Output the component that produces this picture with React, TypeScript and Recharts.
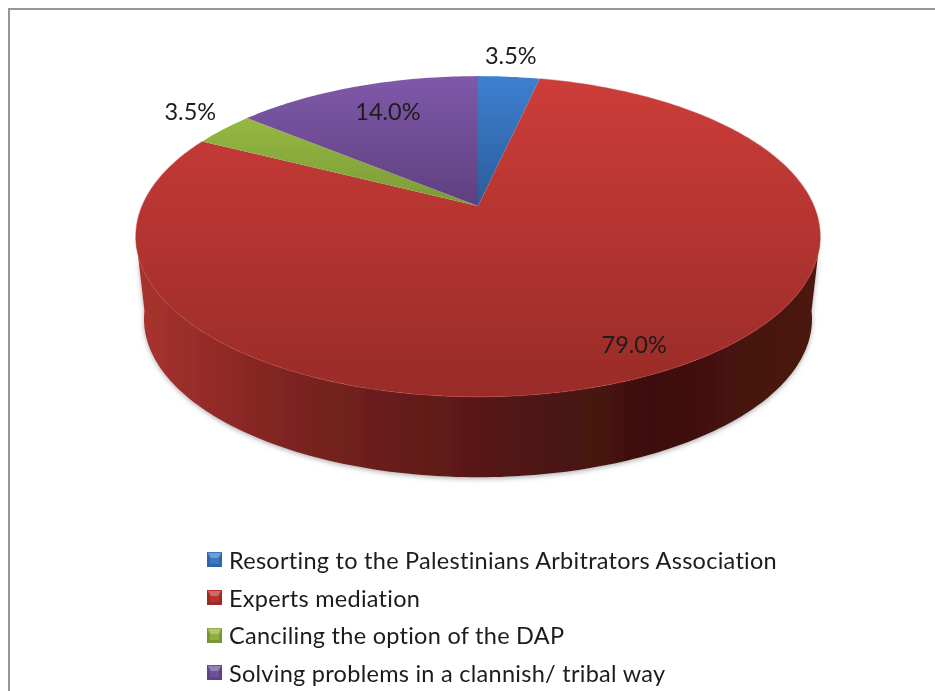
import React from 'react';
import { PieChart, Pie, Legend } from 'recharts';

const categories = [
  'Resorting to the Palestinians Arbitrators Association',
  'Experts mediation',
  'Canciling the option of the DAP',
  'Solving problems in a clannish/ tribal way',
];
const shares = [3.5, 79.0, 3.5, 14.0];
const colors = ['#3a78c4', '#b8322f', '#8fb040', '#70509a'];

const data = categories.map((name, i) => ({ name, value: shares[i], fill: colors[i], idx: i }));

const FONT = 'Lato, sans-serif';
// top face gradients, light at the back of the pie
const topStops = [
  ['#3e80d0', '#2c5c9a'],
  ['#cd3d39', '#982b28'],
  ['#a0c846', '#7c9a38'],
  ['#8059aa', '#5e3f7e'],
];
const gradientBottom = [206, 400, 206, 206];
const labelRadius = [1.19, 0.919, 1.147, 0.706];
const labelNudgeX = [-3, 0, 0, 0];
const labelNudgeY = [-2, -15, -8, -7];

// perspective tilt of the disc, the base rim is a bit narrower and more tilted
const TILT = 0.19;
const SQUASH = 0.46;
const WALL_TILT = 0.24;
const WALL_DROP = 75;
const WALL_SHRINK = 0.965;

function project(cx: number, cy: number, r: number, a: number, scale = 1, wall = false) {
  const rad = (a * Math.PI) / 180;
  const u = Math.cos(rad) * scale;
  const v = Math.sin(rad) * scale;
  const w = 1 + (wall ? WALL_TILT : TILT) * v;
  const s = wall ? WALL_SHRINK : 1;
  return {
    x: cx + (r * s * u) / w,
    y: cy + (wall ? WALL_DROP : 0) - (r * SQUASH * s * v) / w,
  };
}

function arcPoints(cx: number, cy: number, r: number, from: number, to: number, wall = false) {
  const n = Math.max(2, Math.ceil(Math.abs(to - from)));
  const pts: string[] = [];
  for (let i = 0; i <= n; i++) {
    const p = project(cx, cy, r, from + ((to - from) * i) / n, 1, wall);
    pts.push(`${p.x.toFixed(2)} ${p.y.toFixed(2)}`);
  }
  return pts;
}

function Slice(props: any) {
  const { cx, cy, outerRadius, startAngle, endAngle, payload } = props;
  const idx = payload.idx;
  const rim = arcPoints(cx, cy, outerRadius, startAngle, endAngle);
  const top = `M${cx} ${cy} L${rim.join(' L')} Z`;

  // front wall only shows between the widest points of the rim
  const frontStart = Math.min(startAngle, -11);
  const frontEnd = Math.max(endAngle, -169);
  let wall = null;
  if (frontStart > frontEnd) {
    const upper = arcPoints(cx, cy, outerRadius, frontStart, frontEnd);
    const lower = arcPoints(cx, cy, outerRadius, frontEnd, frontStart, true);
    wall = <path d={`M${upper.join(' L')} L${lower.join(' L')} Z`} fill="url(#wallRed)" filter="url(#wallShadow)" />;
  }
  return (
    <g>
      {wall}
      <path d={top} fill={`url(#top${idx})`} />
      <path d={`M${rim.join(' L')}`} fill="none" stroke={idx === 1 ? '#c9403c' : 'none'} strokeWidth={1.2} strokeOpacity={0.4} />
    </g>
  );
}

function SliceLabel(props: any) {
  const { cx, cy, outerRadius, midAngle, value, index } = props;
  const p = project(cx, cy, outerRadius, midAngle, labelRadius[index]);
  return (
    <text x={p.x + labelNudgeX[index]} y={p.y + labelNudgeY[index]} textAnchor="middle" dominantBaseline="central" fontFamily={FONT} fontSize={23.5} fill="#1c1c1c">
      {Number(value).toFixed(1)}%
    </text>
  );
}

function BevelIcon({ color }: { color: string }) {
  return (
    <svg width={15} height={15} style={{ display: 'block', flex: 'none' }}>
      <rect width={15} height={15} fill={color} />
      <path d="M1 1 L14 1 L11 6 L4 6 Z" fill="#fff" fillOpacity={0.28} />
      <path d="M0 15 L15 15 L15 0 L12 7 L12 12 L3 12 L3 7 L0 0 Z" fill="#000" fillOpacity={0.15} />
    </svg>
  );
}

function LegendRows({ payload }: any) {
  return (
    <div style={{ fontFamily: FONT, fontSize: 23.5, letterSpacing: 0.27, color: '#1c1c1c' }}>
      {(payload ?? []).map((entry: any) => (
        <div key={entry.value} style={{ display: 'flex', alignItems: 'center', height: 37.7, gap: 7, whiteSpace: 'nowrap' }}>
          <BevelIcon color={entry.color} />
          <span>{entry.value}</span>
        </div>
      ))}
    </div>
  );
}

export default function App() {
  return (
    <div style={{ position: 'absolute', left: 0, top: 0, width: 935, height: 691, overflow: 'hidden', background: '#fff', filter: 'blur(0.45px)' }}>
      <div style={{ position: 'absolute', left: 8, top: 8, width: 2000, height: 2000, border: '2.5px solid #969696' }} />
      <PieChart width={935} height={691} margin={{ top: 0, right: 0, bottom: 0, left: 0 }}>
        <defs>
          {topStops.map((s, i) => (
            <linearGradient key={i} id={`top${i}`} gradientUnits="userSpaceOnUse" x1={0} y1={76} x2={0} y2={gradientBottom[i]}>
              <stop offset="0%" stopColor={s[0]} />
              <stop offset="100%" stopColor={s[1]} />
            </linearGradient>
          ))}
          <linearGradient id="wallRed" gradientUnits="userSpaceOnUse" x1={140} y1={0} x2={820} y2={0}>
            <stop offset="0%" stopColor="#a8322e" />
            <stop offset="22%" stopColor="#7c2421" />
            <stop offset="50%" stopColor="#571816" />
            <stop offset="75%" stopColor="#3e100f" />
            <stop offset="100%" stopColor="#4c1412" />
          </linearGradient>
          <filter id="wallShadow" x="-5%" y="-5%" width="110%" height="115%">
            <feDropShadow dx={0} dy={1.5} stdDeviation={2.5} floodColor="#777" floodOpacity={0.6} />
          </filter>
        </defs>
        <Pie
          data={data}
          dataKey="value"
          nameKey="name"
          cx={478}
          cy={206}
          outerRadius={336}
          startAngle={90}
          endAngle={-270}
          stroke="none"
          shape={Slice}
          label={SliceLabel}
          labelLine={false}
          isAnimationActive={false}
        />
        <Legend
          layout="vertical"
          itemSorter={null}
          content={<LegendRows />}
          wrapperStyle={{ position: 'absolute', left: 207, top: 541, width: 700, height: 150 }}
        />
      </PieChart>
    </div>
  );
}
